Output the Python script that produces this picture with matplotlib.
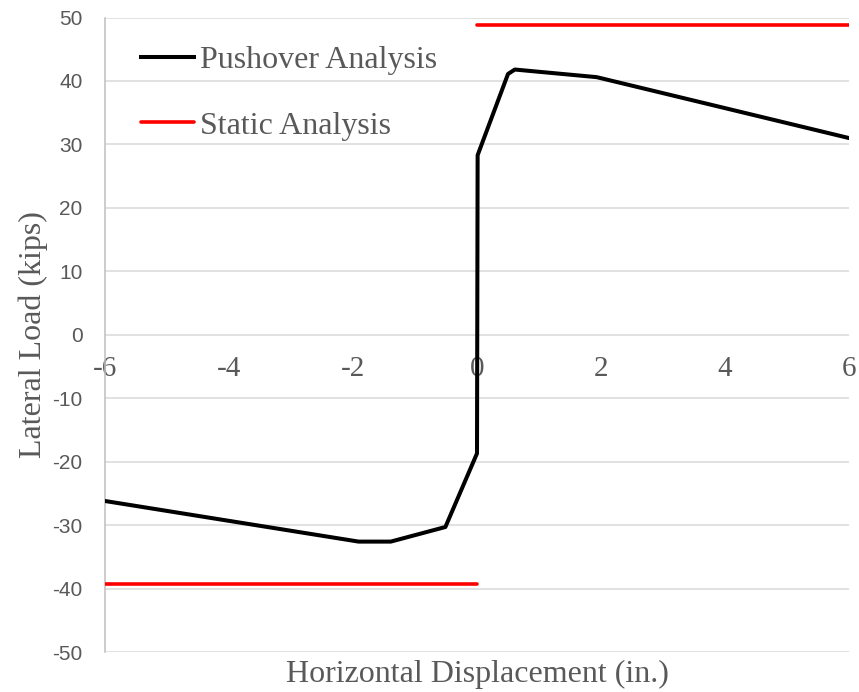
import matplotlib
matplotlib.use("Agg")
import matplotlib.pyplot as plt

plt.rcParams['axes.unicode_minus'] = False

# pushover curve (in., kips)
push_x = [-6.0, -1.91, -1.39, -0.51, 0.0, 0.01, 0.5, 0.61, 1.93, 6.0]
push_y = [-26.2, -32.6, -32.6, -30.3, -18.7, 28.3, 41.1, 41.8, 40.6, 31.0]

# static analysis levels
stat_pos_x = [0.0, 6.0]
stat_pos_y = [48.8, 48.8]
stat_neg_x = [-6.0, 0.0]
stat_neg_y = [-39.3, -39.3]

xticks = [-6, -4, -2, 0, 2, 4, 6]
yticks = [-50, -40, -30, -20, -10, 0, 10, 20, 30, 40, 50]

gray = '#595959'
serif = ['Liberation Serif', 'DejaVu Serif']
sans = ['Liberation Sans Narrow', 'Liberation Sans', 'DejaVu Sans']

fig = plt.figure(figsize=(8.59, 6.92), dpi=100)
ax = fig.add_axes([0.1222, 0.0578, 0.8662, 0.9169])

ax.plot(push_x, push_y, color='black', lw=2.9, label='Pushover Analysis', zorder=3)
ax.plot(stat_pos_x, stat_pos_y, color='#ff0000', lw=2.6, label='Static Analysis',
        solid_capstyle='round', zorder=3)
ax.plot(stat_neg_x, stat_neg_y, color='#ff0000', lw=2.6, solid_capstyle='round', zorder=3)

ax.set_xlim(-6, 6)
ax.set_ylim(-50, 50)
ax.set_xticks(xticks)
ax.set_yticks(yticks)
ax.yaxis.grid(True, color='#d9d9d9', lw=1.1)
ax.set_axisbelow(True)

for s in ['top', 'right', 'bottom']:
    ax.spines[s].set_visible(False)
ax.spines['left'].set_color('#bfbfbf')
ax.spines['left'].set_linewidth(1.1)
ax.spines['bottom'].set_position(('data', 0))

ax.tick_params(axis='both', length=0)
ax.tick_params(axis='x', pad=15, colors=gray)
ax.tick_params(axis='y', pad=16, colors=gray)
for t in ax.get_xticklabels():
    t.set_family(serif)
    t.set_fontsize(21)
for t in ax.get_yticklabels():
    t.set_family(sans)
    t.set_fontsize(15)

ax.set_xlabel('Horizontal Displacement (in.)', family=serif, fontsize=23, color=gray)
ax.xaxis.set_label_coords(0.5, -0.012)
ax.set_ylabel('Lateral Load (kips)', family=serif, fontsize=23, color=gray)
ax.yaxis.set_label_coords(-0.077, 0.5)

leg = ax.legend(loc='upper left', bbox_to_anchor=(0.048, 0.955), frameon=False,
                prop={'family': serif, 'size': 23}, handlelength=1.66,
                handletextpad=0.2, labelspacing=1.12, borderpad=0, borderaxespad=0)
for t in leg.get_texts():
    t.set_color(gray)

fig.savefig('out.png', dpi=100)
